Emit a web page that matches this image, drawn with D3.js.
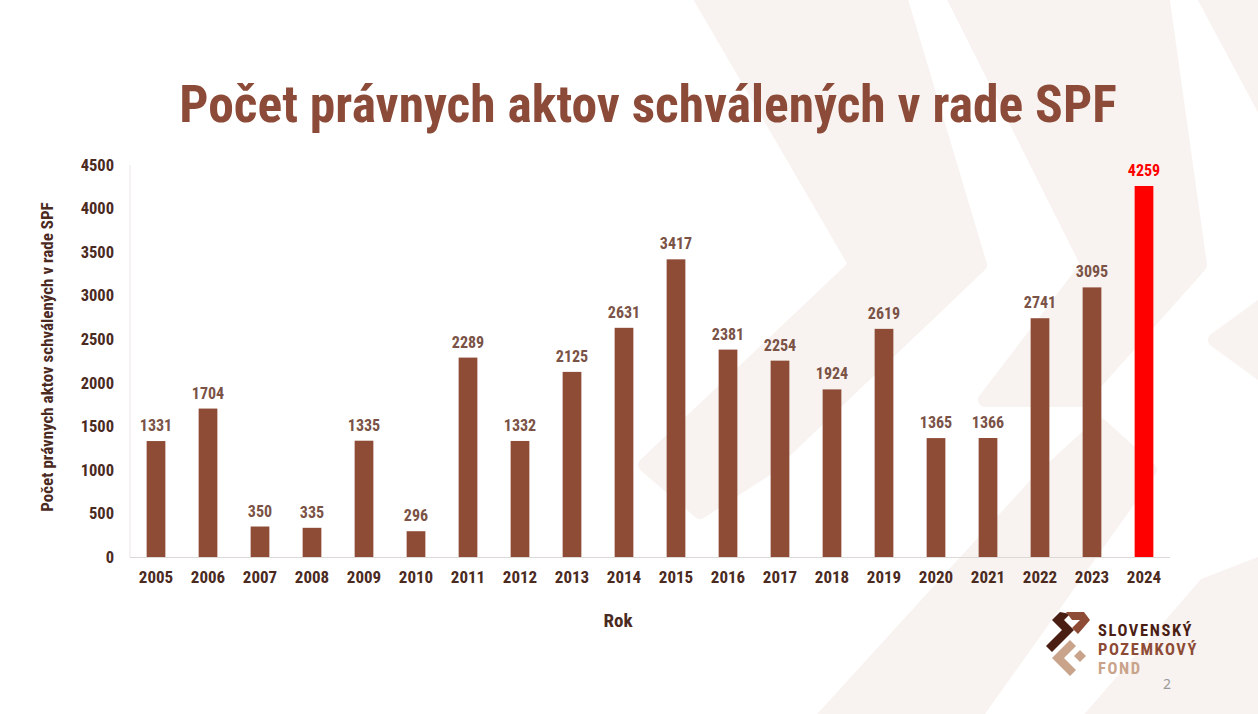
<!DOCTYPE html>
<html><head><meta charset="utf-8">
<script src="https://cdn.jsdelivr.net/npm/d3@7"></script>
<style>
html,body{margin:0;padding:0;background:#fff;}
svg{display:block;}
</style></head>
<body>
<svg id="c" width="1258" height="714"></svg>
<script>
const years = ["2005","2006","2007","2008","2009","2010","2011","2012","2013","2014","2015","2016","2017","2018","2019","2020","2021","2022","2023","2024"];
const values = [1331,1704,350,335,1335,296,2289,1332,2125,2631,3417,2381,2254,1924,2619,1365,1366,2741,3095,4259];
const yTicks = [0,500,1000,1500,2000,2500,3000,3500,4000,4500];
const highlightYear = "2024";

const FONT = "'Liberation Sans Narrow','Roboto Condensed','Noto Sans',sans-serif";
const svg = d3.select("#c");

// decorative background
const bg = svg.append("g").attr("fill","#f8f3f0").attr("stroke","#f8f3f0").attr("stroke-width",14).attr("stroke-linejoin","round");
const shapes = [
  [[690,-20],[895,-20],[980,265],[765,470],[700,512],[645,465],[856,265]],
  [[945,-20],[1160,-20],[1200,265],[1080,400],[985,400],[1088,265]],
  [[1195,-20],[1270,-20],[1270,120]],
  [[1215,340],[1270,300],[1270,380]],
  [[812,730],[1040,480],[1100,425],[1150,470],[965,730]],
  [[1080,730],[1205,585],[1270,560],[1270,730]]
];
bg.selectAll("polygon").data(shapes).join("polygon")
  .attr("points", d => d.map(p => p.join(",")).join(" "));

const m = {left:130, right:1170, top:165, bottom:557};
const x = d3.scaleBand().domain(years).range([m.left, m.right]).paddingInner(0.64).paddingOuter(0.32);
const y = d3.scaleLinear().domain([0,4500]).range([m.bottom, m.top]);

// title
svg.append("text").attr("x",648).attr("y",122).attr("text-anchor","middle")
  .attr("font-family",FONT).attr("font-weight","bold").attr("font-size",51.5)
  .attr("fill","#8c4a38").text("Počet právnych aktov schválených v rade SPF");

// frame line
svg.append("line").attr("x1",m.left).attr("x2",m.left).attr("y1",m.top).attr("y2",m.bottom)
  .attr("stroke","#ebe7e5").attr("stroke-width",1);

// bars
svg.append("g").selectAll("rect").data(years).join("rect")
  .attr("x", d => x(d)).attr("width", x.bandwidth())
  .attr("y", (d,i) => y(values[i])).attr("height", (d,i) => y(0) - y(values[i]))
  .attr("fill", d => d === highlightYear ? "#ff0000" : "#8e4b36");

// value labels
svg.append("g").selectAll("text").data(years).join("text")
  .attr("x", d => x(d) + x.bandwidth()/2).attr("y", (d,i) => y(values[i]) - 10)
  .attr("text-anchor","middle").attr("font-family",FONT).attr("font-weight","bold")
  .attr("font-size",16)
  .attr("fill", d => d === highlightYear ? "#ff0000" : "#7a5246")
  .text((d,i) => values[i]);

// y axis
const ya = svg.append("g").attr("transform",`translate(${m.left},0)`)
  .call(d3.axisLeft(y).tickValues(yTicks).tickFormat(d3.format("d")).tickSize(0).tickPadding(16));
ya.select(".domain").remove();
ya.selectAll("text").attr("font-family",FONT).attr("font-weight","bold").attr("font-size",16.5).attr("fill","#4b2a1f");

// x axis
const xa = svg.append("g").attr("transform",`translate(0,${m.bottom})`)
  .call(d3.axisBottom(x).tickSize(0).tickPadding(14));
xa.select(".domain").attr("stroke","#dcd8d6").attr("d",`M${m.left},0.5H${m.right}`);
xa.selectAll("text").attr("font-family",FONT).attr("font-weight","bold").attr("font-size",17).attr("fill","#4b2a1f");

// axis titles
svg.append("text").attr("x",618).attr("y",627).attr("text-anchor","middle")
  .attr("font-family",FONT).attr("font-weight","bold").attr("font-size",19).attr("fill","#4b2a1f").text("Rok");
svg.append("text").attr("transform",`translate(53,357) rotate(-90)`)
  .attr("text-anchor","middle").attr("font-family",FONT).attr("font-weight","bold").attr("font-size",17)
  .attr("fill","#4b2a1f").text("Počet právnych aktov schválených v rade SPF");

// logo
const lg = svg.append("g");
lg.append("path").attr("d","M1060,612 L1052,620 L1062,630 L1046,646 L1052,652 L1074,630 L1064,620 L1070,614 Z").attr("fill","#4b1e14");
lg.append("path").attr("d","M1066,612 L1084,612 L1090,620 L1078,634 L1072,628 L1080,620 L1072,620 Z").attr("fill","#8e4b36");
lg.append("path").attr("d","M1070,640 L1076,646 L1064,658 L1076,670 L1070,676 L1052,658 Z").attr("fill","#c9a38a");
lg.append("path").attr("d","M1080,650 L1086,656 L1080,662 L1074,656 Z").attr("fill","#c9a38a");
const lt = [["SLOVENSKÝ","#4b1e14",636],["POZEMKOVÝ","#8e4b36",655],["FOND","#c9a38a",674]];
lg.selectAll("text").data(lt).join("text").attr("x",1098).attr("y",d=>d[2])
  .attr("font-family",FONT).attr("font-weight","bold").attr("font-size",16.5).attr("letter-spacing",1.6)
  .attr("fill",d=>d[1]).text(d=>d[0]);
svg.append("text").attr("x",1167).attr("y",689).attr("text-anchor","middle").attr("font-family","'Noto Sans',sans-serif")
  .attr("font-size",14).attr("fill","#999").text("2");
</script>
</body></html>
